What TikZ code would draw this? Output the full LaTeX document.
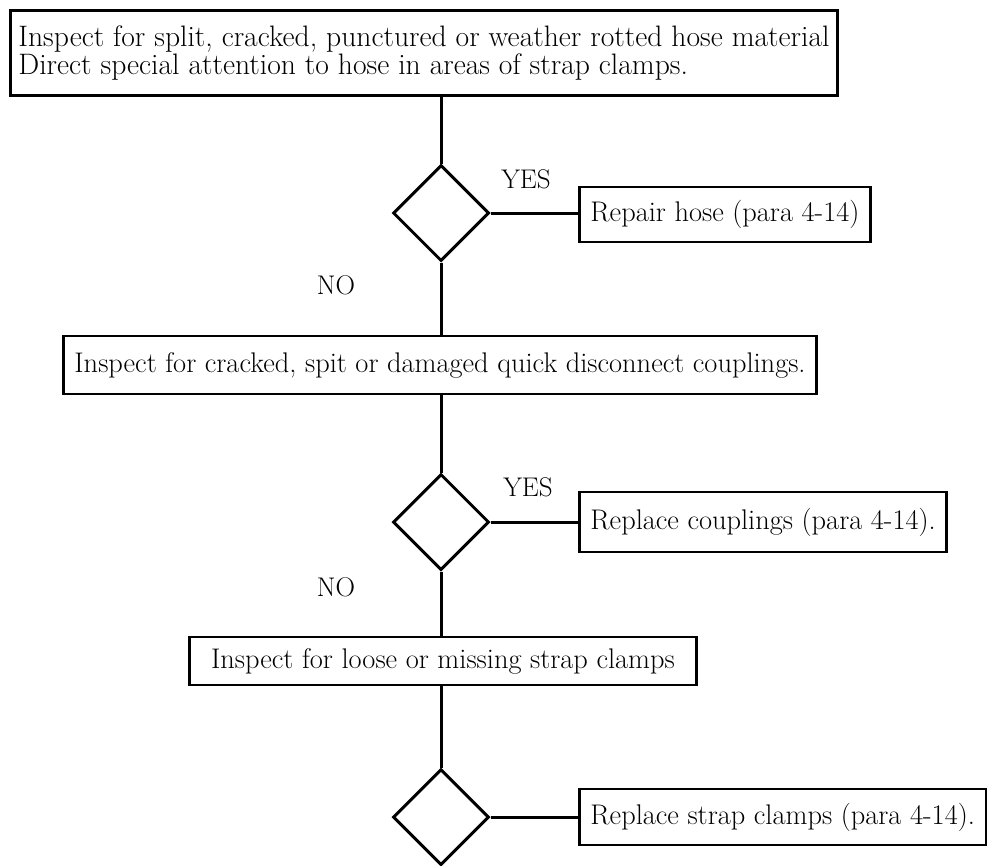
\documentclass[tikz,border=0pt]{standalone}
\usepackage{fontspec}
\usetikzlibrary{shapes.geometric}
\begin{document}
\begin{tikzpicture}[x=1pt,y=-1pt,
  box/.style={draw, line width=2.8pt, rectangle, inner xsep=11pt, inner ysep=0pt, font=\fontsize{28.4}{28}\selectfont},
  dec/.style={draw, line width=3pt, diamond, aspect=1, minimum width=96pt, minimum height=96pt, inner sep=0pt},
  conn/.style={line width=3pt},
  lbl/.style={font=\fontsize{27}{28}\selectfont}]
\useasboundingbox (0,0) rectangle (1000,865);
\node[box, anchor=north west, minimum height=85pt, align=left, inner xsep=8pt, font=\fontsize{29.6}{28}\selectfont] (top) at (9,9)
  {Inspect for split, cracked, punctured or weather rotted hose material\\Direct special attention to hose in areas of strap clamps.};
\node[dec] (d1) at (441,213) {};
\node[box, anchor=west, minimum height=55pt] (r1) at (578,214.5) {Repair hose (para 4-14)};
\node[box, minimum height=58pt, minimum width=752pt] (mid) at (440,365) {Inspect for cracked, spit or damaged quick disconnect couplings.};
\node[dec] (d2) at (441,522) {};
\node[box, anchor=west, minimum height=60pt] (r2) at (578,522) {Replace couplings (para 4-14).};
\node[box, minimum height=48pt, minimum width=507pt] (bot) at (443,661) {Inspect for loose or missing strap clamps};
\node[dec] (d3) at (441,817) {};
\node[box, anchor=west, minimum height=56pt] (r3) at (578,817) {Replace strap clamps (para 4-14).};
\node[lbl] (y1) at (526,179) {YES};
\node[lbl] (n1) at (336,285) {NO};
\node[lbl] (y2) at (528,487) {YES};
\node[lbl] (n2) at (336,587) {NO};
\draw[conn] (d1.north |- top.south) -- (d1.north);
\draw[conn] (d1.east) -- (d1.east -| r1.west);
\draw[conn] (d1.south) -- (d1.south |- mid.north);
\draw[conn] (d2.north |- mid.south) -- (d2.north);
\draw[conn] (d2.east) -- (d2.east -| r2.west);
\draw[conn] (d2.south) -- (d2.south |- bot.north);
\draw[conn] (d3.north |- bot.south) -- (d3.north);
\draw[conn] (d3.east) -- (r3.west);
\end{tikzpicture}
\end{document}
